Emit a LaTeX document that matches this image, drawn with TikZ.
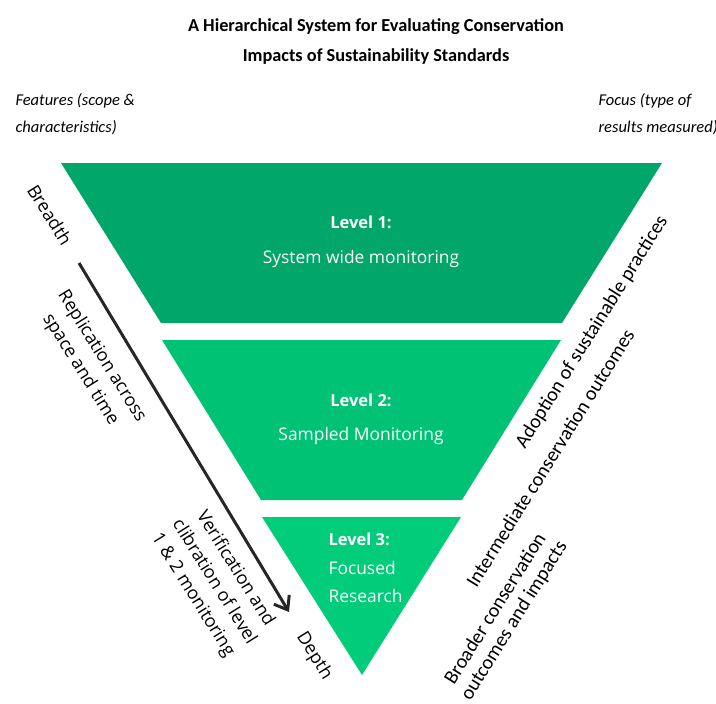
\documentclass[tikz,border=0pt]{standalone}
\usepackage{fontspec}
\setmainfont{Carlito}
\newfontfamily\levelfont{Open Sans}
\usetikzlibrary{arrows.meta}
\definecolor{levelone}{RGB}{0,166,106}
\definecolor{leveltwo}{RGB}{0,194,116}
\definecolor{levelthree}{RGB}{0,204,122}

\begin{document}
\begin{tikzpicture}[x=1pt, y=-1pt,
    lvl/.style={text=white, font=\levelfont\fontsize{17.4}{28.5}\selectfont},
    lvlhead/.style={text=white, font=\levelfont\bfseries\fontsize{16.5}{28}\selectfont},
    lefttxt/.style={rotate=-58, align=center, font=\levelfont\fontsize{18}{25}\selectfont},
    righttxt/.style={rotate=58, align=center, font=\fontsize{20}{22}\selectfont},
    sidetxt/.style={anchor=west, align=left, font=\itshape\fontsize{16.5}{27}\selectfont}]
  \useasboundingbox (0,0) rectangle (716,704);
  \fill[levelone] (61,163) -- (662,163) -- (562,323) -- (161,323) -- cycle;
  \fill[leveltwo] (162,340) -- (561,340) -- (462,500) -- (261,500) -- cycle;
  \fill[levelthree] (262,517) -- (461,517) -- (362,675) -- cycle;
  \node[align=center, font=\bfseries\fontsize{18.3}{30}\selectfont] (title) at (376,42)
    {A Hierarchical System for Evaluating Conservation\\Impacts of Sustainability Standards};
  \node[sidetxt] (features) at (12,114) {Features (scope \&\\characteristics)};
  \node[sidetxt] (focus) at (595,114) {Focus (type of\\results measured)};
  \node[lvlhead] (lvl1head) at (361,222) {Level 1:};
  \node[lvl] (lvl1txt) at (361,259) {System wide monitoring};
  \node[lvlhead] (lvl2head) at (361,400) {Level 2:};
  \node[lvl] (lvl2txt) at (361,436) {Sampled Monitoring};
  \node[lvl, anchor=west, align=left] (lvl3txt) at (325,568)
    {{\bfseries\fontsize{16.5}{28.5}\selectfont Level 3:}\\Focused\\Research};
  \node[lefttxt] (breadth) at (50,215) {Breadth};
  \node[lefttxt] (replication) at (91,363) {Replication across\\space and time};
  \node[lefttxt] (verification) at (214,582) {Verification and\\clibration of level\\1 \& 2 monitoring};
  \node[lefttxt] (depth) at (314,656) {Depth};
  \node[righttxt] (adoption) at (592,332) {Adoption of sustainable practices};
  \node[righttxt] (intermediate) at (550,458) {Intermediate conservation outcomes};
  \node[righttxt] (broader) at (505,615) {Broader conservation\\outcomes and impacts};
  \coordinate (breadthstart) at (79,263);
  \coordinate (depthend) at (289,612);
  \draw[line width=3pt, black!85, -{Straight Barb[length=12pt, width=18pt]}] (breadthstart) -- (depthend);
\end{tikzpicture}
\end{document}
